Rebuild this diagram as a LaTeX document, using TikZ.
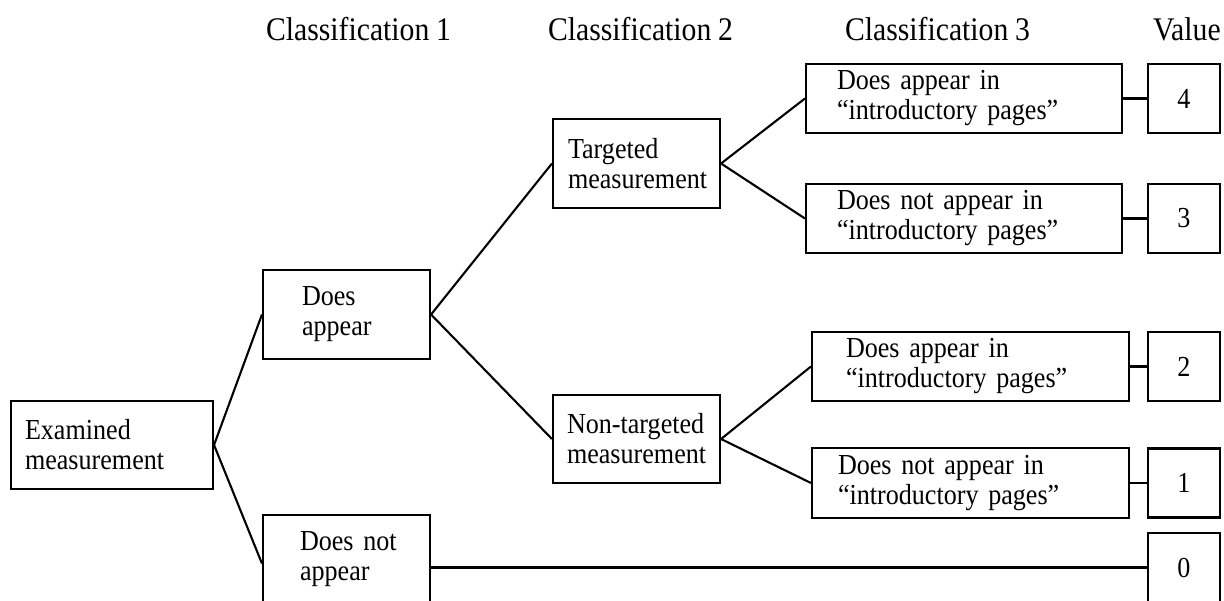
\documentclass[tikz,border=0pt]{standalone}
\usepackage{fontspec}
\setmainfont{Liberation Serif}[FakeStretch=0.9,WordSpace=0.9]
\begin{document}
\begin{tikzpicture}[x=1pt,y=-1pt,
  line width=2.1pt,
  box/.style n args={3}{draw, rectangle, line width=2.1pt, minimum width=#1, minimum height=#2,
    inner xsep=0pt, inner ysep=0pt, text width=#1, align=left,
    execute at begin node={\leftskip=#3\relax},
    font=\fontsize{29}{30}\selectfont},
  valbox/.style={draw, rectangle, line width=2.1pt, minimum width=72pt, minimum height=69pt,
    inner sep=0pt, align=center, font=\fontsize{29}{30}\selectfont},
  head/.style={anchor=base west, inner sep=0pt, font=\fontsize{33}{36}\selectfont},
  conn/.style={draw, line width=2.1pt}]
\useasboundingbox (0,0) rectangle (1224,600);

% headers
\node[head] (h1) at (265,40) {Classification 1};
\node[head] (h2) at (547,40) {Classification 2};
\node[head] (h3) at (844,40) {Classification 3};
\node[head] (h4) at (1152,40) {Value};

% boxes
\node[box={202pt}{88pt}{14pt}] (ex) at (112,445) {Examined\\measurement};
\node[box={167pt}{89pt}{39pt}] (da) at (346.5,314.5) {Does\\appear};
\node[box={167pt}{89pt}{37pt}] (dna) at (346.5,559.5) {Does not\\appear};
\node[box={167pt}{89pt}{15pt}] (tm) at (636.5,163.5) {Targeted\\measurement};
\node[box={167pt}{88pt}{14pt}] (ntm) at (636.5,439) {Non-targeted\\measurement};
\node[box={316pt}{69pt}{31pt}] (c1) at (964,98.5) {Does appear in\\“introductory pages”};
\node[box={316pt}{69pt}{31pt}] (c2) at (964,218.5) {Does not appear in\\“introductory pages”};
\node[box={317pt}{69pt}{34pt}] (c3) at (970.5,366.5) {Does appear in\\“introductory pages”};
\node[box={317pt}{70pt}{26pt}] (c4) at (970.5,483) {Does not appear in\\“introductory pages”};

\node[valbox] (v4) at (1184,98.5) {4};
\node[valbox] (v3) at (1184,218.5) {3};
\node[valbox] (v2) at (1184,366.5) {2};
\node[valbox] (v1) at (1184,483) {1};
\node[valbox] (v0) at (1184,567.5) {0};

% connectors
\draw[conn] (da.west) -- (ex.east) -- ([yshift=-4pt]dna.west);
\draw[conn] (tm.west) -- (da.east) -- (ntm.west);
\draw[conn] (c1.west) -- (tm.east) -- (c2.west);
\draw[conn] (c3.west) -- (ntm.east) -- (c4.west);
\draw[conn] (c1.east) -- (v4.west);
\draw[conn] (c2.east) -- (v3.west);
\draw[conn] (c3.east) -- (v2.west);
\draw[conn] (c4.east) -- (v1.west);
\draw[conn] (dna.east |- v0.west) -- (v0.west);
\end{tikzpicture}
\end{document}
